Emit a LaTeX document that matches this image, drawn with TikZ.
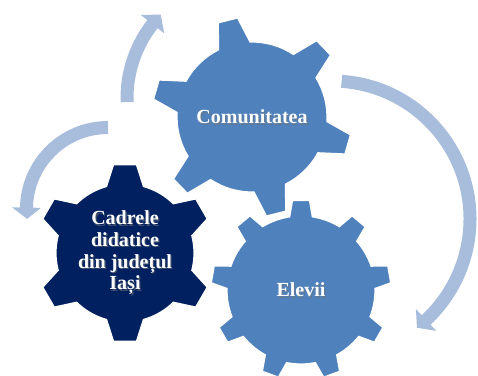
\documentclass[tikz,border=0pt]{standalone}
\usepackage{fontspec}
\setmainfont{Liberation Serif}
\definecolor{gearblue}{RGB}{79,129,189}
\definecolor{gearnavy}{RGB}{0,32,96}
\definecolor{arrowblue}{RGB}{168,189,220}
\tikzset{
  gearstyle/.style={draw=white, line width=1.2pt, line join=miter},
  shaft/.style={draw=arrowblue, line width=13pt, line cap=butt},
  headfill/.style={fill=arrowblue},
  lbl/.style={text=white, font=\fontsize{20}{21.7}\selectfont\bfseries, align=center, inner sep=0pt},
  lblshadow/.style={text=black!55, opacity=0.55, font=\fontsize{20}{21.7}\selectfont\bfseries, align=center, inner sep=0pt}
}
% #1 fill, #2 centre, #3 teeth, #4 phase, #5 body radius, #6 tip radius, #7 base half-angle, #8 tip half-angle
\newcommand{\drawgear}[8]{%
  \pgfmathsetmacro\gstep{360/#3}%
  \pgfmathtruncatemacro\glast{#3-1}%
  \begin{scope}[shift={(#2)}]
    \filldraw[gearstyle, fill=#1] ({#4-#7}:#5)
      \foreach \k in {0,...,\glast}{
        -- ({#4+\k*\gstep-#8}:#6) -- ({#4+\k*\gstep+#8}:#6) -- ({#4+\k*\gstep+#7}:#5)
        arc[start angle={#4+\k*\gstep+#7}, end angle={#4+(\k+1)*\gstep-#7}, radius=#5]
      } -- cycle;
  \end{scope}}
\begin{document}
\begin{tikzpicture}[x=1pt,y=1pt]
\useasboundingbox (0,0) rectangle (478,375);
% arc centres
\coordinate (arcA) at (247,277);
\coordinate (arcB) at (108,166);
\coordinate (arcC) at (332,156);
% gear centres
\coordinate (gC) at (252,258);
\coordinate (gD) at (125,122);
\coordinate (gE) at (301,85);
% arrows
\draw[shaft] ([shift={(182:120)}]arcA) arc[start angle=182, end angle=141.5, radius=120];
\fill[headfill] ([shift={(142:105)}]arcA) -- ([shift={(142:135)}]arcA) -- ([shift={(136:120)}]arcA) -- cycle;
\draw[shaft] ([shift={(90:81.5)}]arcB) arc[start angle=90, end angle=179.5, radius=81.5];
\fill[headfill] ([shift={(179:67)}]arcB) -- ([shift={(179:96)}]arcB) -- ([shift={(187:81.5)}]arcB) -- cycle;
\draw[shaft] ([shift={(86:138)}]arcC) arc[start angle=86, end angle=-47.5, radius=138];
\fill[headfill] ([shift={(-47:123)}]arcC) -- ([shift={(-47:153)}]arcC) -- ([shift={(-52:138)}]arcC) -- cycle;
% gears
\drawgear{gearblue}{gC}{6}{44}{75}{100}{12.5}{5.7}
\drawgear{gearblue}{gE}{9}{90}{74}{90}{8.8}{5.4}
\drawgear{gearnavy}{gD}{6}{30}{69}{89}{15.5}{7.4}
% labels
\node[lblshadow] (commS) at ([shift={(1.3,-1.3)}]gC) {Comunitatea};
\node[lbl] (comm) at (gC) {Comunitatea};
\node[lblshadow] (cadS) at ([shift={(1.3,-1.3)}]gD) {Cadrele\\didatice\\din județul\\Iași};
\node[lbl] (cad) at (gD) {Cadrele\\didatice\\din județul\\Iași};
\node[lblshadow] (elevS) at ([shift={(1.3,-1.3)}]gE) {Elevii};
\node[lbl] (elev) at (gE) {Elevii};
\end{tikzpicture}
\end{document}
